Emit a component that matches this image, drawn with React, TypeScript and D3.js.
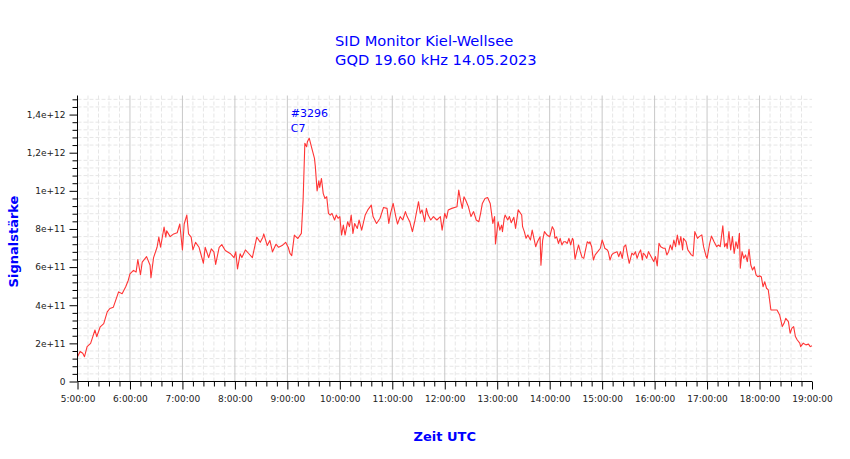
import { useRef, useEffect } from 'react'
import * as d3 from 'd3'

// signal strength in units of 1e11, sampled from the 14.05.2023 recording
const UNIT = 1e11

const times = [
  '05:00', '05:03', '05:06', '05:08', '05:11', '05:15', '05:20', '05:22', '05:26', '05:30',
  '05:34', '05:37', '05:41', '05:47', '05:51', '05:55', '05:58', '06:00', '06:04', '06:07',
  '06:09', '06:12', '06:14', '06:19', '06:23', '06:24', '06:27', '06:31', '06:33', '06:35',
  '06:39', '06:41', '06:42', '06:46', '06:50', '06:54', '06:57', '07:00', '07:02', '07:05',
  '07:07', '07:10', '07:12', '07:15', '07:19', '07:21', '07:24', '07:26', '07:30', '07:33',
  '07:36', '07:38', '07:42', '07:45', '07:49', '07:55', '07:59', '08:01', '08:03', '08:06',
  '08:08', '08:12', '08:16', '08:20', '08:25', '08:29', '08:32', '08:33', '08:37', '08:40',
  '08:43', '08:47', '08:50', '08:54', '08:58', '09:01', '09:03', '09:05', '09:08', '09:10',
  '09:12', '09:16', '09:18', '09:20', '09:22', '09:23', '09:25', '09:28', '09:31', '09:32',
  '09:34', '09:36', '09:37', '09:39', '09:41', '09:43', '09:45', '09:47', '09:49', '09:51',
  '09:54', '09:56', '09:58', '10:00', '10:02', '10:04', '10:06', '10:09', '10:11', '10:13',
  '10:15', '10:17', '10:20', '10:22', '10:25', '10:29', '10:32', '10:36', '10:38', '10:42',
  '10:46', '10:50', '10:54', '10:56', '10:58', '11:01', '11:04', '11:06', '11:09', '11:12',
  '11:15', '11:17', '11:20', '11:23', '11:26', '11:30', '11:32', '11:34', '11:37', '11:39',
  '11:41', '11:44', '11:47', '11:51', '11:55', '11:57', '12:00', '12:02', '12:04', '12:08',
  '12:14', '12:16', '12:18', '12:20', '12:22', '12:24', '12:27', '12:30', '12:33', '12:36',
  '12:39', '12:41', '12:43', '12:46', '12:49', '12:52', '12:55', '12:57', '12:58', '13:01',
  '13:03', '13:05', '13:06', '13:08', '13:09', '13:12', '13:14', '13:16', '13:19', '13:21',
  '13:24', '13:28', '13:29', '13:31', '13:33', '13:35', '13:38', '13:40', '13:44', '13:46',
  '13:49', '13:50', '13:52', '13:54', '13:57', '14:00', '14:03', '14:05', '14:06', '14:08',
  '14:10', '14:12', '14:14', '14:16', '14:18', '14:20', '14:22', '14:24', '14:26', '14:27',
  '14:29', '14:31', '14:33', '14:35', '14:37', '14:39', '14:41', '14:43', '14:45', '14:46',
  '14:48', '14:50', '14:52', '14:55', '14:58', '15:00', '15:02', '15:03', '15:06', '15:07',
  '15:09', '15:11', '15:13', '15:17', '15:19', '15:21', '15:23', '15:25', '15:27', '15:29',
  '15:31', '15:34', '15:36', '15:38', '15:40', '15:42', '15:44', '15:46', '15:47', '15:49',
  '15:51', '15:53', '15:55', '15:59', '16:01', '16:03', '16:05', '16:07', '16:10', '16:12',
  '16:14', '16:16', '16:18', '16:20', '16:22', '16:24', '16:26', '16:28', '16:30', '16:32',
  '16:33', '16:36', '16:38', '16:42', '16:44', '16:46', '16:49', '16:51', '16:54', '16:56',
  '16:59', '17:00', '17:03', '17:05', '17:08', '17:11', '17:13', '17:15', '17:18', '17:20',
  '17:22', '17:23', '17:25', '17:27', '17:29', '17:31', '17:33', '17:35', '17:37', '17:38',
  '17:40', '17:42', '17:44', '17:46', '17:48', '17:50', '17:52', '17:54', '17:56', '17:58',
  '18:00', '18:02', '18:04', '18:06', '18:08', '18:10', '18:13', '18:16', '18:20', '18:23',
  '18:26', '18:28', '18:30', '18:33', '18:35', '18:37', '18:39', '18:41', '18:43', '18:46',
  '18:47', '18:50', '18:53', '18:56', '18:58', '19:00',
]

const signal = [
  1.30, 1.57, 1.48, 1.30, 1.83, 2.00, 2.70, 2.35, 2.87, 3.04,
  3.65, 3.83, 3.90, 4.70, 4.60, 4.96, 5.30, 5.65, 5.83, 5.74,
  6.40, 5.60, 6.26, 6.55, 6.10, 5.44, 6.50, 7.04, 7.57, 7.04,
  8.10, 7.57, 7.90, 7.60, 7.74, 7.80, 8.26, 6.90, 8.26, 8.73,
  7.74, 7.57, 6.90, 7.30, 7.04, 6.70, 6.20, 7.04, 6.50, 6.96,
  6.80, 6.14, 7.04, 7.18, 6.87, 6.70, 6.50, 6.80, 5.90, 6.70,
  6.50, 6.90, 6.70, 6.50, 7.57, 7.30, 7.57, 7.74, 7.13, 7.40,
  6.80, 7.20, 7.04, 7.13, 7.30, 7.04, 6.72, 6.60, 7.68, 7.59,
  7.50, 7.77, 9.51, 12.49, 12.31, 12.59, 12.76, 12.23, 11.70, 11.27,
  10.00, 10.53, 10.18, 10.65, 9.87, 9.60, 9.69, 8.82, 8.73, 8.82,
  8.47, 8.73, 8.56, 8.65, 7.68, 8.20, 7.68, 8.38, 8.12, 8.73,
  7.77, 8.29, 8.03, 8.47, 7.94, 8.73, 9.00, 9.25, 8.65, 8.29,
  8.56, 9.13, 9.08, 8.29, 8.82, 9.34, 8.65, 8.26, 8.65, 8.47,
  8.91, 8.65, 8.38, 7.86, 8.47, 9.43, 8.82, 9.00, 8.38, 9.08,
  8.73, 8.47, 8.65, 8.47, 8.65, 7.94, 8.82, 8.56, 9.00, 9.08,
  9.17, 10.04, 9.51, 9.08, 9.69, 9.51, 9.17, 8.65, 8.91, 8.47,
  8.38, 8.82, 9.34, 9.60, 9.65, 9.34, 8.29, 8.65, 7.21, 8.38,
  7.94, 8.20, 7.86, 8.56, 8.73, 8.47, 8.65, 8.33, 8.61, 8.03,
  9.00, 8.73, 8.12, 7.86, 7.51, 7.68, 7.42, 7.94, 7.07, 7.33,
  7.59, 6.10, 7.42, 7.86, 7.68, 7.59, 8.12, 7.95, 7.51, 7.59,
  7.24, 7.51, 7.16, 7.33, 7.33, 7.24, 7.51, 7.16, 7.51, 7.42,
  6.41, 6.81, 7.16, 6.81, 6.51, 6.46, 6.90, 7.33, 7.24, 7.33,
  7.07, 6.37, 6.64, 6.81, 6.99, 7.42, 7.16, 6.99, 6.90, 6.81,
  6.37, 6.64, 6.73, 6.81, 6.55, 6.81, 6.46, 7.07, 7.16, 6.64,
  6.20, 6.73, 6.64, 6.81, 6.46, 6.73, 6.90, 6.37, 6.73, 6.64,
  6.46, 6.81, 6.64, 6.29, 6.55, 6.06, 7.25, 7.07, 6.99, 6.99,
  6.64, 6.81, 7.16, 6.90, 7.42, 7.07, 7.68, 7.16, 7.60, 6.90,
  7.51, 7.33, 6.90, 6.64, 6.58, 7.86, 7.51, 7.60, 7.69, 7.07,
  6.55, 6.46, 7.25, 7.63, 7.33, 7.07, 7.16, 7.07, 8.16, 7.07,
  7.25, 6.98, 7.86, 6.90, 7.60, 6.72, 7.33, 6.98, 7.77, 5.94,
  6.81, 6.46, 6.64, 6.29, 6.93, 6.11, 5.85, 6.02, 5.59, 5.50,
  5.54, 5.50, 4.97, 5.23, 4.89, 4.80, 3.75, 3.75, 3.75, 3.49,
  2.88, 3.05, 3.31, 3.14, 2.53, 2.80, 2.88, 2.36, 2.19, 2.01,
  1.83, 2.01, 1.92, 1.96, 1.83, 1.88,
]

const titleLines = ['SID Monitor Kiel-Wellsee', 'GQD 19.60 kHz 14.05.2023']
const flareLabel = ['#3296', 'C7']
const flareTime = '09:04'
const flareLabelValue = 13.85 // top label line, units of 1e11
const xLabel = 'Zeit UTC'
const yLabel = 'Signalstärke'
const timeDomain = ['05:00', '19:00']
const yMax = 15 // units of 1e11

const WIDTH = 850
const HEIGHT = 459

export default function App() {
  const svgRef = useRef<SVGSVGElement>(null)

  useEffect(() => {
    if (!svgRef.current) return
    const svg = d3.select(svgRef.current)
    svg.selectAll('*').remove()

    const margin = { top: 95.5, right: 38, bottom: 77.5, left: 77.5 }
    const innerWidth = WIDTH - margin.left - margin.right
    const innerHeight = HEIGHT - margin.top - margin.bottom
    const font = '"DejaVu Sans", Verdana, sans-serif'

    const parse = d3.timeParse('%H:%M')
    const data = times.map((t, i) => ({ x: parse(t) as Date, y: signal[i] * UNIT }))

    const xScale = d3.scaleTime()
      .domain(timeDomain.map((t) => parse(t) as Date))
      .range([0, innerWidth])
    const yScale = d3.scaleLinear().domain([0, yMax * UNIT]).range([innerHeight, 0])

    svg.attr('width', WIDTH).attr('height', HEIGHT)

    // Title
    const title = svg.append('text')
      .attr('x', 335).attr('y', 45.5)
      .attr('fill', '#0000ff').attr('font-size', '14.7px').attr('font-family', font)
    titleLines.forEach((line, i) => {
      title.append('tspan').attr('x', 335).attr('dy', i === 0 ? 0 : 19.5).text(line)
    })

    const g = svg.append('g').attr('transform', `translate(${margin.left},${margin.top})`)

    // Minor grid (dashed): every 4e10 and every 12 min
    const hourTicks = xScale.ticks(d3.timeHour.every(1) as d3.TimeInterval)
    const minorTimes = xScale.ticks(d3.timeMinute.every(12) as d3.TimeInterval)
      .filter((d) => d.getMinutes() !== 0)
    const minorValues = d3.range(1, 38).filter((i) => i % 5 !== 0).map((i) => i * 4e10)

    g.selectAll('.hgrid')
      .data(minorValues)
      .join('line')
      .attr('x1', 0).attr('x2', innerWidth)
      .attr('y1', (d) => yScale(d)).attr('y2', (d) => yScale(d))
      .attr('stroke', '#e6e6e6').attr('stroke-dasharray', '4,2')

    g.selectAll('.vgrid')
      .data(minorTimes)
      .join('line')
      .attr('x1', (d) => xScale(d)).attr('x2', (d) => xScale(d))
      .attr('y1', 0).attr('y2', innerHeight)
      .attr('stroke', '#e6e6e6').attr('stroke-dasharray', '4,2')

    // Hour lines
    g.selectAll('.hour')
      .data(hourTicks.slice(1, -1))
      .join('line')
      .attr('x1', (d) => xScale(d)).attr('x2', (d) => xScale(d))
      .attr('y1', 0).attr('y2', innerHeight)
      .attr('stroke', '#c8c8c8')

    // Signal line
    const line = d3.line<{ x: Date; y: number }>().x((d) => xScale(d.x)).y((d) => yScale(d.y))
    g.append('path')
      .datum(data)
      .attr('fill', 'none')
      .attr('stroke', '#ff3535')
      .attr('stroke-width', 1.1)
      .attr('stroke-linejoin', 'round')
      .attr('d', line)

    // Flare annotation
    const fx = xScale(parse(flareTime) as Date)
    flareLabel.forEach((txt, i) => {
      g.append('text')
        .attr('x', fx).attr('y', yScale(flareLabelValue * UNIT) + i * 15)
        .attr('fill', '#0000ff').attr('font-size', '11px').attr('font-family', font)
        .text(txt)
    })

    // Y axis
    const yFormat = (v: d3.NumberValue) => (+v === 0 ? '0' : (+v).toExponential().replace('.', ','))
    g.append('g')
      .call(d3.axisLeft(yScale).tickValues(d3.range(0, 8).map((i) => i * 2e11)).tickSize(8).tickPadding(4).tickFormat(yFormat))
      .call((a) => a.selectAll('text').attr('fill', '#222').attr('font-size', '9px').attr('font-family', font))
      .call((a) => a.select('.domain').attr('d', `M0,0V${innerHeight}`))
    g.append('g')
      .call(d3.axisLeft(yScale).tickValues(minorValues).tickSize(5).tickFormat(() => ''))
      .call((a) => a.select('.domain').remove())

    // X axis
    g.append('g')
      .attr('transform', `translate(0,${innerHeight})`)
      .call(d3.axisBottom(xScale).tickValues(hourTicks).tickSize(8).tickPadding(6)
        .tickFormat((d) => d3.timeFormat('%-H:%M:%S')(d as Date)))
      .call((a) => a.selectAll('text').attr('fill', '#222').attr('font-size', '9px').attr('font-family', font))
      .call((a) => a.select('.domain').attr('d', `M0,0H${innerWidth}`))
    g.append('g')
      .attr('transform', `translate(0,${innerHeight})`)
      .call(d3.axisBottom(xScale).tickValues(minorTimes).tickSize(5).tickFormat(() => ''))
      .call((a) => a.select('.domain').remove())

    // Axis labels
    svg.append('text')
      .attr('x', margin.left + innerWidth / 2).attr('y', 441)
      .attr('text-anchor', 'middle')
      .attr('fill', '#0000ff').attr('font-size', '13px').attr('font-weight', 'bold').attr('font-family', font)
      .text(xLabel)
    svg.append('text')
      .attr('transform', `translate(17.5,${margin.top + innerHeight / 2 + 3}) rotate(-90)`)
      .attr('text-anchor', 'middle')
      .attr('fill', '#0000ff').attr('font-size', '13px').attr('font-weight', 'bold').attr('font-family', font)
      .text(yLabel)
  }, [])

  return (
    <div style={{ position: 'absolute', left: 0, top: 0, background: '#fff' }}>
      <svg ref={svgRef} style={{ display: 'block' }} />
    </div>
  )
}
